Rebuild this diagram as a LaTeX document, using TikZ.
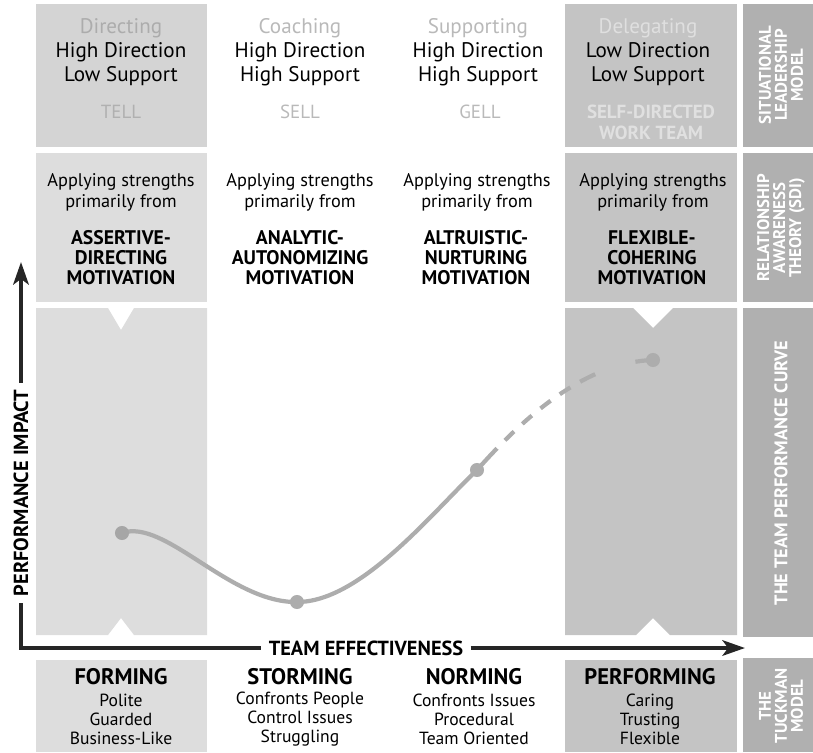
\documentclass[tikz,border=0pt]{standalone}
\usepackage{fontspec}
\setmainfont{PT Sans}
\usetikzlibrary{arrows.meta}
\newcommand{\myfz}[2]{\fontsize{#1}{#2}\selectfont}
\begin{document}
\begin{tikzpicture}[x=0.025cm,y=-0.025cm,
  every node/.style={inner sep=0pt, align=center},
  boxone/.style={fill=gray!34},
  boxonelight/.style={fill=gray!27},
  boxfour/.style={fill=gray!46},
  labbox/.style={fill=gray!62},
  headtxt/.style={font=\myfz{15}{17}},
  modetxt/.style={font=\myfz{13.5}{15}, text=gray!55},
  apptxt/.style={font=\myfz{13}{15}},
  mottxt/.style={font=\bfseries\myfz{14}{14.2}},
  stagetxt/.style={font=\bfseries\myfz{16}{17}},
  traittxt/.style={font=\myfz{12.5}{13.5}},
  labtxt/.style={font=\bfseries\myfz{12}{11.4}, text=white, rotate=90},
  axistxt/.style={font=\bfseries\myfz{14.5}{15}, inner xsep=5pt},
  axisline/.style={line width=2.8pt, draw=black!85},
  perfcurve/.style={draw=gray!64, line width=3pt, line cap=round},
  perfdot/.style={circle, fill=gray!64, minimum size=10pt}
]
\useasboundingbox (0,0) rectangle (813,752);

% ---- column 1 boxes
\fill[boxone] (36,4) rectangle (207,147);
\fill[boxonelight] (36,153) rectangle (207,302);
\fill[boxonelight] (36,308) -- (108,308) -- (121,330) -- (134,308) -- (207,308)
  -- (207,635) -- (134,635) -- (121,618) -- (108,635) -- (36,635) -- cycle;
\fill[boxonelight] (36,660) rectangle (207,752);
% ---- column 4 boxes
\fill[boxfour] (565,4) rectangle (737,147);
\fill[boxfour] (565,153) rectangle (737,302);
\fill[boxfour] (565,308) -- (633,308) -- (653,328) -- (673,308) -- (737,308)
  -- (737,635) -- (670,635) -- (653,618) -- (636,635) -- (565,635) -- cycle;
\fill[boxfour] (565,660) rectangle (737,752);
% ---- label column
\fill[labbox] (743,4) rectangle (813,147);
\fill[labbox] (743,153) rectangle (813,302);
\fill[labbox] (743,308) rectangle (813,637);
\fill[labbox] (743,658) rectangle (813,752);

% ---- row 1: situational leadership
\node[headtxt] (h1) at (121,52) {\textcolor{gray!65}{Directing}\\High Direction\\Low Support};
\node[headtxt] (h2) at (300,52) {\textcolor{gray!55}{Coaching}\\High Direction\\High Support};
\node[headtxt] (h3) at (478,52) {\textcolor{gray!55}{Supporting}\\High Direction\\High Support};
\node[headtxt] (h4) at (648,52) {\textcolor{gray!25}{Delegating}\\Low Direction\\Low Support};
\node[modetxt, text=gray!62] (m1) at (121,112) {TELL};
\node[modetxt] (m2) at (300,112) {SELL};
\node[modetxt] (m3) at (480,112) {GELL};
\node[modetxt, font=\bfseries\myfz{13.5}{15}, text=gray!24] (m4) at (651,122) {SELF-DIRECTED\\WORK TEAM};

% ---- row 2: relationship awareness
\node[apptxt] (a1) at (121,192) {Applying strengths\\primarily from};
\node[apptxt] (a2) at (300,192) {Applying strengths\\primarily from};
\node[apptxt] (a3) at (477,192) {Applying strengths\\primarily from};
\node[apptxt] (a4) at (653,192) {Applying strengths\\primarily from};
\node[mottxt] (v1) at (121,258) {ASSERTIVE-\\DIRECTING\\MOTIVATION};
\node[mottxt] (v2) at (300,258) {ANALYTIC-\\AUTONOMIZING\\MOTIVATION};
\node[mottxt] (v3) at (476,258) {ALTRUISTIC-\\NURTURING\\MOTIVATION};
\node[mottxt] (v4) at (652,258) {FLEXIBLE-\\COHERING\\MOTIVATION};

% ---- row 4: Tuckman
\node[stagetxt] (s1) at (121,677) {FORMING};
\node[stagetxt] (s2) at (300,677) {STORMING};
\node[stagetxt] (s3) at (474,677) {NORMING};
\node[stagetxt] (s4) at (650,677) {PERFORMING};
\node[traittxt] (t1) at (121,719) {Polite\\Guarded\\Business-Like};
\node[traittxt] (t2) at (300,719) {Confronts People\\Control Issues\\Struggling};
\node[traittxt] (t3) at (474,719) {Confronts Issues\\Procedural\\Team Oriented};
\node[traittxt] (t4) at (650,719) {Caring\\Trusting\\Flexible};

% ---- label column texts
\node[labtxt] (l1) at (781,75) {SITUATIONAL\\LEADERSHIP\\MODEL};
\node[labtxt] (l2) at (781,228) {RELATIONSHIP\\AWARENESS\\THEORY (SDI)};
\node[labtxt, font=\bfseries\myfz{13}{13}] (l3) at (781,473) {THE TEAM PERFORMANCE CURVE};
\node[labtxt] (l4) at (781,706) {THE\\TUCKMAN\\MODEL};

% ---- axes
\node[axistxt, rotate=90] (yl) at (21,493) {PERFORMANCE IMPACT};
\node[axistxt] (xl) at (366,648) {TEAM EFFECTIVENESS};
\coordinate (ytip) at (21,262);
\coordinate (xtip) at (745,648);
\draw[axisline] (yl.west) |- (xl.west);
\draw[axisline, -{Stealth[length=16pt,width=11pt,inset=4pt]}] (yl.east) -- (ytip);
\draw[axisline, -{Stealth[length=16pt,width=11pt,inset=4pt]}] (xl.east) -- (xtip);

% ---- performance curve
\coordinate (p0) at (122,533);
\coordinate (p1) at (297,602);
\coordinate (p2) at (477,470);
\coordinate (p3) at (653,360);
\draw[perfcurve] (p0) .. controls (165,518) and (230,603) .. (p1)
  .. controls (360,602) and (430,515) .. (p2);
\draw[perfcurve, line cap=butt, dash pattern=on 21pt off 8pt on 9pt off 8pt on 9pt off 8pt on 9pt off 8pt on 9pt off 8pt on 12pt off 30pt]
  (p2) .. controls (530,410) and (590,362) .. (p3);
\node[perfdot, fill=gray!70] (d0) at (p0) {};
\node[perfdot] (d1) at (p1) {};
\node[perfdot] (d2) at (p2) {};
\node[perfdot] (d3) at (p3) {};
\end{tikzpicture}
\end{document}
